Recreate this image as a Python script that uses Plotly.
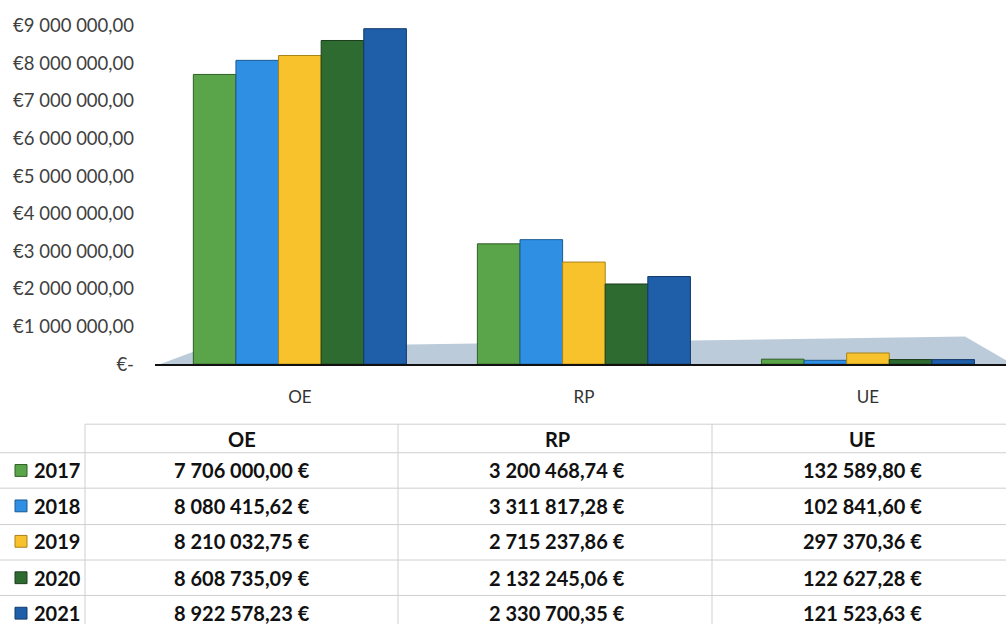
import plotly.graph_objects as go

# ---------------- data ----------------
categories = ["OE", "RP", "UE"]
years = ["2017", "2018", "2019", "2020", "2021"]
values_2017 = [7706000.00, 3200468.74, 132589.80]
values_2018 = [8080415.62, 3311817.28, 102841.60]
values_2019 = [8210032.75, 2715237.86, 297370.36]
values_2020 = [8608735.09, 2132245.06, 122627.28]
values_2021 = [8922578.23, 2330700.35, 121523.63]
series_values = [values_2017, values_2018, values_2019, values_2020, values_2021]

y_tick_values = [0, 1000000, 2000000, 3000000, 4000000, 5000000,
                 6000000, 7000000, 8000000, 9000000]
y_tick_labels = ["€-", "€1 000 000,00", "€2 000 000,00", "€3 000 000,00",
                 "€4 000 000,00", "€5 000 000,00", "€6 000 000,00",
                 "€7 000 000,00", "€8 000 000,00", "€9 000 000,00"]

colors = ["#5aa54a", "#2f8fe3", "#f7c22c", "#2e6b30", "#1f5ea8"]
edge_colors = ["#2f5e26", "#1b5a92", "#a8821a", "#1a3d1b", "#123a6a"]

W, H = 1006, 634


def X(px):
    return px / W


def Y(py):
    return 1 - py / H


def fmt_eur(v):
    s = f"{v:,.2f}".replace(",", " ").replace(".", ",")
    return s + " €"


FONT = "Lato, 'Open Sans', sans-serif"

fig = go.Figure()
for yr, vals, c, ec in zip(years, series_values, colors, edge_colors):
    fig.add_trace(go.Bar(
        name=yr, x=categories, y=vals,
        marker=dict(color=c, line=dict(color=ec, width=1)),
        showlegend=False,
    ))

# ---------------- layout ----------------
zero_py = 370
px_per_unit = 38.2 / 1e6
y_top = 9.4e6
top_py = zero_py - y_top * px_per_unit

shapes = []
# floor (3D base plate)
shapes.append(dict(
    type="path", xref="paper", yref="paper", layer="below",
    path=(f"M {X(157)} {Y(371)} L {X(205)} {Y(353)} L {X(965)} {Y(342)} "
          f"L {X(1006)} {Y(366)} L {X(1006)} {Y(371)} Z"),
    fillcolor="#bccbd9", line=dict(width=0),
))

# table grid
grid = "#cfcfcf"
h_lines = [(431, 85), (460, 0), (496, 0), (533, 0), (569, 0), (605, 0)]
for py, x0 in h_lines:
    shapes.append(dict(type="line", xref="paper", yref="paper",
                       x0=X(x0), x1=X(1006), y0=Y(py), y1=Y(py),
                       line=dict(color=grid, width=1)))
for px in [85, 398, 712]:
    shapes.append(dict(type="line", xref="paper", yref="paper",
                       x0=X(px), x1=X(px), y0=Y(431), y1=Y(634),
                       line=dict(color=grid, width=1)))

annotations = []
col_centers = [242, 557, 862]
header_py = 446
row_pys = [478, 514, 550, 587, 623]
tfont = dict(family=FONT, size=20, color="#111111")

for cat, cx in zip(categories, col_centers):
    annotations.append(dict(x=X(cx), y=Y(header_py), xref="paper", yref="paper",
                            text=f"<b>{cat}</b>", showarrow=False, font=tfont,
                            xanchor="center", yanchor="middle"))

for i, (yr, vals, c, ec) in enumerate(zip(years, series_values, colors, edge_colors)):
    py = row_pys[i]
    # legend key square
    shapes.append(dict(type="rect", xref="paper", yref="paper",
                       x0=X(15), x1=X(27), y0=Y(py + 6), y1=Y(py - 6),
                       fillcolor=c, line=dict(color=ec, width=1)))
    annotations.append(dict(x=X(32), y=Y(py), xref="paper", yref="paper",
                            text=f"<b>{yr}</b>", showarrow=False, font=tfont,
                            xanchor="left", yanchor="middle"))
    for v, cx in zip(vals, col_centers):
        annotations.append(dict(x=X(cx), y=Y(py), xref="paper", yref="paper",
                                text=f"<b>{fmt_eur(v)}</b>", showarrow=False,
                                font=tfont, xanchor="center", yanchor="middle"))

fig.update_layout(
    width=W, height=H,
    margin=dict(l=0, r=0, t=0, b=0),
    paper_bgcolor="white", plot_bgcolor="rgba(0,0,0,0)",
    barmode="group", bargap=0.25, bargroupgap=0,
    font=dict(family=FONT),
    shapes=shapes, annotations=annotations,
    xaxis=dict(
        domain=[X(155), 1],
        range=[-0.51, 2.486],
        showline=True, linecolor="#111111", linewidth=2,
        showgrid=False, zeroline=False,
        ticks="", ticklabelstandoff=16,
        tickfont=dict(family=FONT, size=17, color="#333333"),
    ),
    yaxis=dict(
        domain=[Y(zero_py), Y(top_py)],
        range=[0, y_top],
        tickvals=y_tick_values, ticktext=y_tick_labels,
        showgrid=False, zeroline=False, showline=False,
        ticks="", ticklabelstandoff=20,
        tickfont=dict(family=FONT, size=18.5, color="#404040"),
    ),
)

fig.write_html("out.html")
